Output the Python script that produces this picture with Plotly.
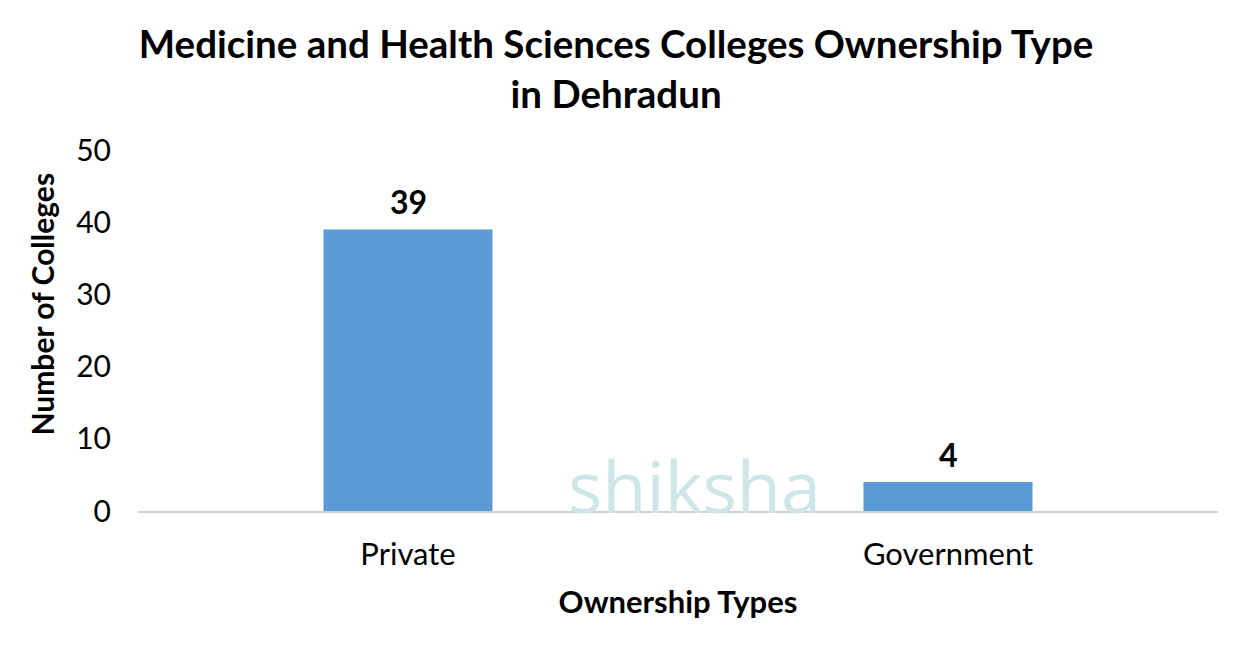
import plotly.graph_objects as go

categories = ["Private", "Government"]
values = [39, 4]
y_ticks = [0, 10, 20, 30, 40, 50]

FONT = "Lato, 'Open Sans', sans-serif"

fig = go.Figure()
fig.add_trace(go.Bar(
    x=categories, y=values,
    marker=dict(color="#5B9BD5", line=dict(width=0)),
    width=0.313,
    cliponaxis=False,
))

for c, v in zip(categories, values):
    fig.add_annotation(
        x=c, y=v, xref="x", yref="y", text=str(v), showarrow=False,
        yanchor="bottom", yshift=6,
        font=dict(family=FONT, size=32, color="#000000", weight="bold"),
    )

fig.add_annotation(
    x=0.5, y=3.6, xref="x", yref="y", text="shiksha", showarrow=False,
    font=dict(family="'Open Sans', sans-serif", size=72, color="#cfe6e9"),
    xanchor="left", yanchor="middle", xshift=-112,
)

# y-axis title as an annotation (placed slightly above the plot's centre, like the reference)
fig.add_annotation(
    x=0, y=0.572, xref="paper", yref="paper", text="Number of Colleges",
    showarrow=False, textangle=-90, xanchor="center", yanchor="middle", xshift=-96,
    font=dict(family=FONT, size=30, color="#000000", weight="bold"),
)

# page body has an 8px margin, so figure coordinates are offset by 8px
fig.update_layout(
    width=1241, height=647,
    paper_bgcolor="white", plot_bgcolor="white",
    margin=dict(l=130, r=31, t=142, b=144, autoexpand=False),
    title=dict(
        text="Medicine and Health Sciences Colleges Ownership Type<br>in Dehradun",
        x=0.49, xanchor="center", xref="container",
        y=1 - 50 / 647, yanchor="middle", yref="container",
        font=dict(family=FONT, size=38.5, color="#000000", weight="bold"),
    ),
    xaxis=dict(
        title=dict(text="Ownership Types", font=dict(family=FONT, size=31, color="#000000", weight="bold"), standoff=20),
        tickfont=dict(family=FONT, size=31, color="#000000"),
        showline=True, linecolor="#d0d0d0", linewidth=1.5,
        ticks="", showgrid=False, automargin=False, ticklabelstandoff=15,
    ),
    yaxis=dict(
        tickfont=dict(family=FONT, size=30, color="#000000"),
        range=[0, 50], tickvals=y_ticks,
        showgrid=False, zeroline=False, showline=False, ticks="",
        automargin=False, ticklabelstandoff=26,
    ),
    showlegend=False,
    bargap=0.687,
)

fig.write_html("out.html")
